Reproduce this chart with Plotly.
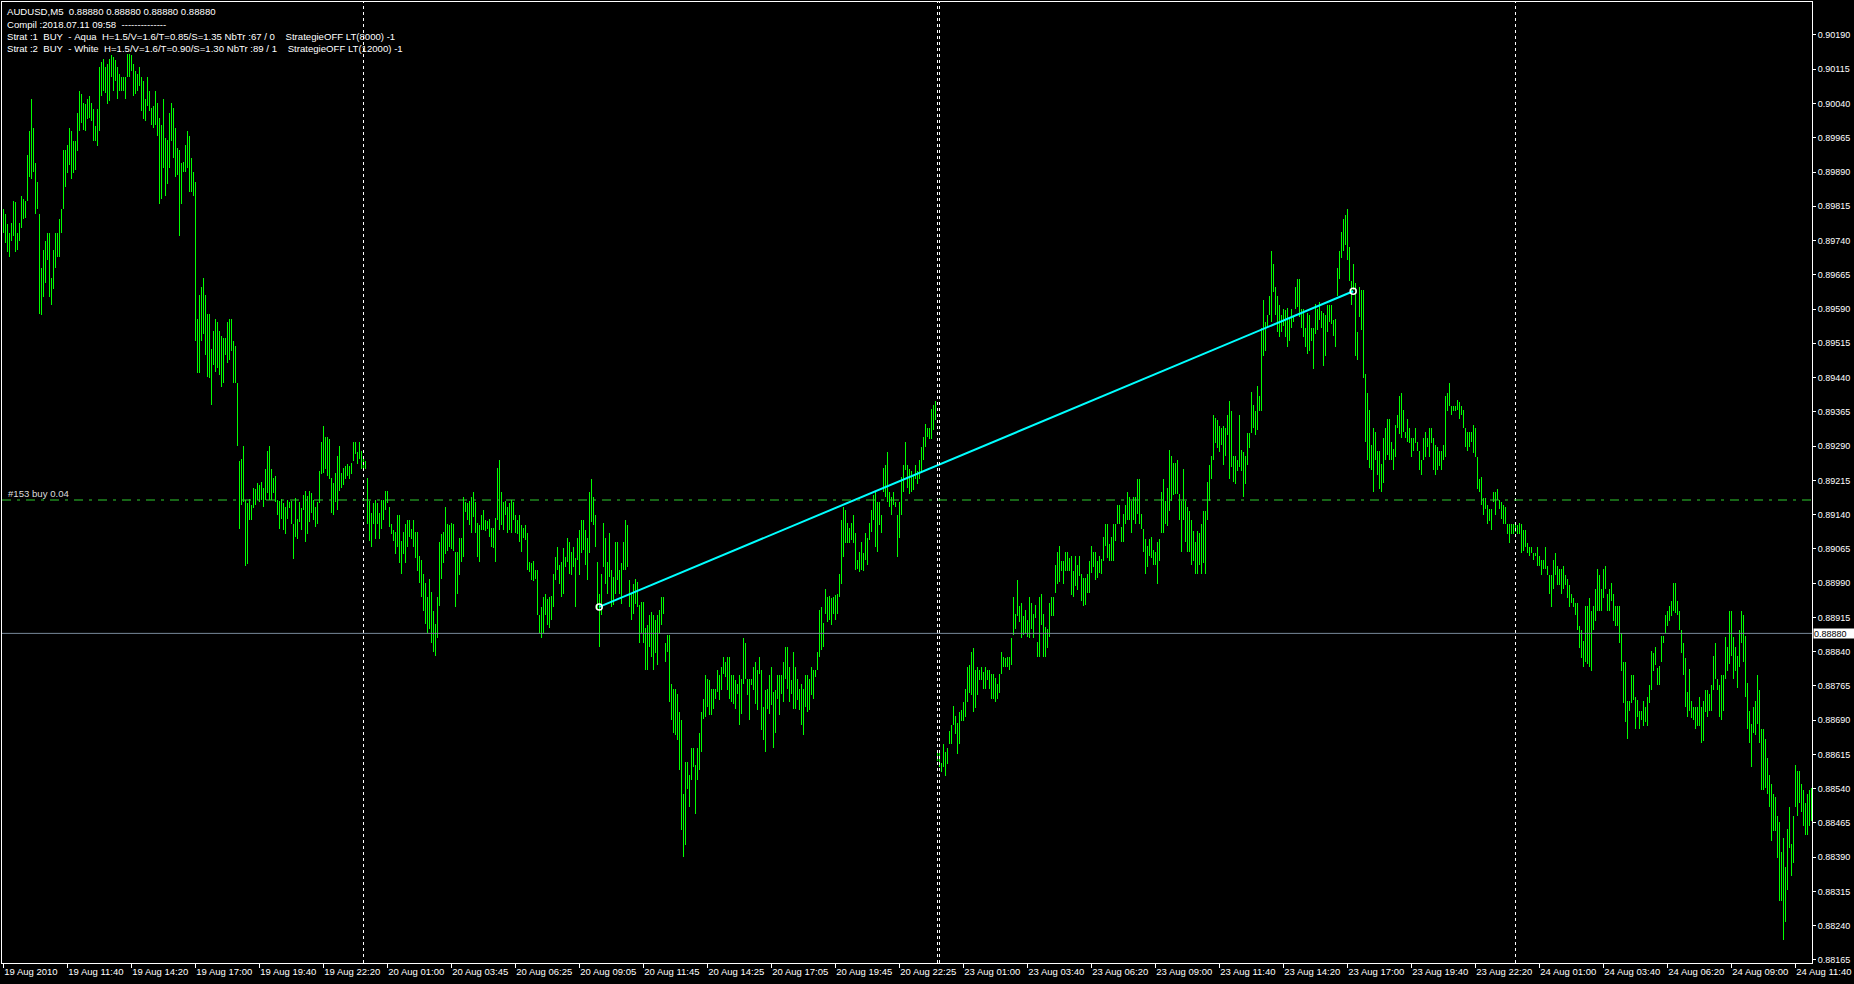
import plotly.graph_objects as go

# ---------------- data: AUDUSD M5 bars, prices in points (1 point = 0.00001) ----------------
aug19_high = [
    89809, 89798, 89776, 89757, 89779, 89827, 89824, 89757, 89779, 89838,
    89831, 89827, 89927, 89979, 90049, 89986, 89909, 89868, 89798, 89679,
    89720, 89738, 89757, 89757, 89657, 89720, 89757, 89757, 89787, 89809,
    89938, 89938, 89949, 89986, 89979, 89957, 89957, 90020, 90068, 90061,
    90042, 90038, 90049, 90057, 90042, 90027, 89990, 90027, 90120, 90131,
    90138, 90120, 90127, 90138, 90146, 90142, 90135, 90120, 90105, 90098,
    90098, 90098, 90149, 90149, 90146, 90127, 90112, 90105, 90120, 90098,
    90090, 90049, 90098, 90068, 90031, 90035, 90068, 90042, 90009, 89994,
    90049, 89964, 89961, 90020, 90042, 90031, 89986, 89942, 89938, 89909,
    89912, 89949, 89979, 89968, 89920, 89890, 89868, 89568, 89620, 89639,
    89657, 89620, 89579, 89579, 89502, 89542, 89568, 89561, 89542, 89531,
    89527, 89527, 89561, 89568, 89568, 89520, 89509, 89428, 89257, 89261,
    89291, 89171, 89166, 89174, 89161, 89198, 89195, 89209, 89205, 89211,
    89198, 89239, 89279, 89291, 89239, 89220, 89224, 89172, 89169, 89175,
    89166, 89157, 89173, 89168, 89170, 89120, 89176, 89131, 89167, 89154,
    89183, 89191, 89180, 89191, 89187, 89172, 89157, 89168, 89235, 89298,
    89335, 89309, 89309, 89305, 89220, 89209, 89231, 89268, 89291, 89231,
    89242, 89246, 89250, 89246, 89254, 89298, 89298, 89276, 89298, 89279,
]
aug19_low = [
    89757, 89735, 89716, 89705, 89738, 89750, 89716, 89720, 89738, 89768,
    89787, 89790, 89827, 89879, 89875, 89890, 89798, 89809, 89579, 89576,
    89616, 89646, 89698, 89616, 89598, 89635, 89679, 89705, 89705, 89757,
    89809, 89857, 89887, 89905, 89875, 89887, 89894, 89935, 89979, 89998,
    89983, 89979, 90005, 90009, 90001, 89957, 89957, 89946, 89979, 90057,
    90068, 90064, 90038, 90046, 90098, 90068, 90090, 90049, 90068, 90068,
    90068, 90049, 90098, 90098, 90112, 90057, 90061, 90068, 90079, 90024,
    90005, 90001, 90035, 90024, 89994, 89986, 89994, 89968, 89820, 89831,
    89898, 89838, 89864, 89898, 89957, 89920, 89879, 89883, 89750, 89820,
    89890, 89890, 89898, 89846, 89846, 89838, 89520, 89450, 89450, 89520,
    89535, 89490, 89442, 89439, 89379, 89468, 89453, 89461, 89446, 89420,
    89428, 89490, 89472, 89479, 89498, 89428, 89428, 89291, 89109, 89161,
    89168, 89028, 89031, 89128, 89128, 89154, 89161, 89172, 89168, 89172,
    89157, 89172, 89187, 89172, 89172, 89187, 89168, 89139, 89109, 89131,
    89106, 89098, 89131, 89154, 89120, 89042, 89091, 89087, 89124, 89106,
    89150, 89080, 89098, 89124, 89143, 89128, 89113, 89120, 89165, 89228,
    89231, 89239, 89224, 89217, 89143, 89139, 89168, 89150, 89191, 89198,
    89205, 89217, 89224, 89217, 89228, 89257, 89272, 89250, 89261, 89239,
]
aug20_high = [
    89261, 89257, 89220, 89170, 89143, 89166, 89173, 89165, 89143, 89171,
    89172, 89191, 89191, 89157, 89120, 89106, 89102, 89139, 89139, 89083,
    89102, 89120, 89128, 89128, 89109, 89128, 89102, 89102, 89050, 89040,
    89010, 88990, 88960, 89000, 88970, 88930, 88900, 88960, 89080, 89098,
    89102, 89157, 89120, 89118, 89122, 89120, 89059, 89059, 89088, 89088,
    89179, 89168, 89166, 89170, 89179, 89190, 89168, 89121, 89117, 89139,
    89150, 89128, 89126, 89130, 89110, 89110, 89132, 89241, 89259, 89190,
    89168, 89170, 89157, 89166, 89172, 89167, 89139, 89128, 89139, 89117,
    89110, 89117, 89099, 89037, 89035, 89039, 89018, 89018, 88920, 88938,
    88960, 88967, 88956, 88960, 88962, 89011, 89048, 89069, 89029, 89037,
    89066, 89048, 89088, 89080, 89059, 89069, 89044, 89088, 89106, 89128,
    89128, 89106, 89088, 89190, 89219, 89179, 89139, 89037, 88967, 89011,
    89121, 89088, 89037, 89099, 89018, 89004, 89080, 89080, 89018, 89033,
    89080, 89128, 89117, 88996, 88967, 88989, 89000, 88993, 88942, 88949,
    88949, 88891, 88898, 88920, 88927, 88920, 88909, 88920, 88931, 88960,
    88960, 88858, 88876, 88876, 88770, 88759, 88759, 88748, 88708, 88690,
    88529, 88599, 88599, 88569, 88628, 88628, 88591, 88628, 88661, 88708,
    88737, 88788, 88781, 88777, 88759, 88759, 88759, 88799, 88788, 88807,
    88828, 88818, 88828, 88828, 88788, 88788, 88777, 88770, 88788, 88781,
    88869, 88858, 88781, 88781, 88781, 88807, 88818, 88799, 88828, 88799,
    88719, 88756, 88759, 88788, 88807, 88752, 88756, 88788, 88788, 88788,
    88818, 88850, 88850, 88807, 88777, 88840, 88807, 88781, 88759, 88770,
    88759, 88788, 88788, 88781, 88807, 88799, 88799, 88840, 88931, 88938,
    88902, 88978, 88960, 88962, 88958, 88960, 88963, 88967, 89011, 89128,
    89157, 89150, 89121, 89110, 89121, 89139, 89099, 89040, 89059, 89080,
    89055, 89099, 89088, 89121, 89150, 89183, 89190, 89168, 89168, 89139,
    89241, 89248, 89278, 89190, 89179, 89190, 89168, 89139, 89168, 89223,
    89248, 89299, 89248, 89240, 89235, 89227, 89248, 89235, 89260, 89289,
    89310, 89338, 89330, 89330, 89371, 89380, 89388,
]
aug20_low = [
    89239, 89239, 89120, 89083, 89069, 89120, 89087, 89120, 89087, 89109,
    89128, 89150, 89165, 89113, 89098, 89083, 89054, 89069, 89035, 89009,
    89054, 89035, 89069, 89091, 89087, 89069, 89046, 89017, 88990, 88960,
    88930, 88900, 88880, 88890, 88860, 88840, 88830, 88870, 88940, 89000,
    89035, 89054, 89061, 89069, 89065, 89061, 88938, 88967, 89007, 89037,
    89048, 89146, 89128, 89117, 89099, 89135, 89099, 89048, 89037, 89106,
    89106, 89104, 89108, 89091, 89069, 89066, 89037, 89128, 89106, 89117,
    89106, 89139, 89099, 89106, 89099, 89128, 89099, 89097, 89080, 89059,
    89088, 89084, 89018, 89015, 88996, 88994, 88998, 88920, 88880, 88869,
    88880, 88920, 88898, 88891, 88909, 88938, 88996, 89018, 88989, 88960,
    88967, 89026, 89037, 89011, 89007, 89026, 88938, 89040, 89007, 89055,
    89062, 89029, 88996, 89055, 89124, 89117, 89069, 88931, 88850, 88920,
    89026, 88989, 88967, 89004, 88938, 88942, 88967, 88996, 88967, 88945,
    89018, 89018, 89026, 88938, 88909, 88923, 88945, 88938, 88858, 88880,
    88858, 88799, 88799, 88850, 88829, 88799, 88836, 88810, 88880, 88898,
    88923, 88818, 88840, 88730, 88690, 88661, 88657, 88646, 88580, 88449,
    88391, 88416, 88540, 88500, 88558, 88588, 88485, 88558, 88580, 88621,
    88693, 88697, 88719, 88701, 88701, 88715, 88737, 88752, 88734, 88756,
    88792, 88785, 88756, 88737, 88730, 88726, 88715, 88748, 88679, 88704,
    88770, 88781, 88745, 88690, 88766, 88756, 88726, 88712, 88792, 88668,
    88646, 88621, 88715, 88704, 88723, 88628, 88661, 88737, 88701, 88748,
    88730, 88781, 88759, 88730, 88748, 88715, 88715, 88734, 88712, 88679,
    88657, 88719, 88708, 88712, 88745, 88737, 88785, 88799, 88829, 88843,
    88850, 88923, 88905, 88909, 88898, 88923, 88909, 88923, 88960, 88989,
    89048, 89077, 89077, 89077, 89084, 89077, 89018, 89021, 89015, 89019,
    89017, 89040, 89029, 89084, 89102, 89128, 89069, 89059, 89117, 89099,
    89190, 89179, 89168, 89157, 89139, 89161, 89157, 89048, 89088, 89139,
    89190, 89237, 89198, 89186, 89190, 89194, 89219, 89207, 89219, 89231,
    89260, 89289, 89310, 89306, 89306, 89326, 89347,
]
aug22_high = [88625]
aug22_low = [88600]
aug23_high = [
    88621, 88597, 88638, 88621, 88630, 88667, 88679, 88720, 88700, 88683,
    88708, 88712, 88729, 88758, 88807, 88811, 88840, 88848, 88799, 88807,
    88799, 88807, 88795, 88807, 88799, 88799, 88790, 88790, 88782, 88770,
    88790, 88840, 88828, 88826, 88829, 88828, 88869, 88959, 88922, 88996,
    88939, 88947, 88918, 88931, 88910, 88959, 88947, 88922, 88943, 88861,
    88959, 88967, 88922, 88893, 88889, 88947, 88959, 88959, 89029, 89058,
    89071, 89038, 89038, 89058, 89058, 89046, 89050, 89017, 89050, 89029,
    89050, 89009, 89001, 89001, 89009, 89038, 89071, 89058, 89058, 89038,
    89050, 89042, 89091, 89120, 89120, 89075, 89091, 89120, 89120, 89161,
    89161, 89112, 89141, 89161, 89190, 89178, 89169, 89178, 89178, 89219,
    89219, 89141, 89108, 89087, 89071, 89087, 89091, 89062, 89058, 89079,
    89087, 89190, 89219, 89169, 89198, 89281, 89268, 89252, 89252, 89260,
    89186, 89169, 89240, 89169, 89157, 89149, 89128, 89104, 89079, 89104,
    89099, 89120, 89149, 89149, 89211, 89248, 89268, 89359, 89351, 89347,
    89334, 89330, 89334, 89330, 89359, 89388, 89367, 89268, 89268, 89260,
    89359, 89281, 89277, 89268, 89318, 89318, 89408, 89380, 89367, 89421,
    89400, 89549, 89610, 89561, 89577, 89619, 89718, 89689, 89639, 89619,
    89598, 89577, 89590, 89588, 89592, 89573, 89590, 89573, 89639, 89656,
    89656, 89590, 89590, 89549, 89581, 89577, 89549, 89549, 89602, 89590,
    89606, 89586, 89581, 89577, 89598, 89598, 89598, 89565, 89569, 89680,
    89718, 89759, 89788, 89796, 89808, 89726, 89651, 89689, 89647, 89540,
    89639, 89631, 89631,
    89448, 89407, 89370, 89292, 89329, 89320, 89279, 89279, 89250, 89308,
    89329, 89349, 89349, 89300, 89283, 89337, 89357, 89399, 89407, 89370,
    89320, 89349, 89329, 89308, 89308, 89329, 89300, 89279, 89259, 89308,
    89320, 89308, 89329, 89329, 89308, 89292, 89288, 89279, 89279, 89292,
    89399, 89407, 89428, 89378, 89378, 89378, 89390, 89386, 89378, 89370,
    89329, 89320, 89320, 89320, 89337, 89329, 89267, 89217, 89222, 89176,
    89176, 89160, 89152, 89152, 89189, 89189, 89197, 89172, 89168, 89160,
    89156, 89119, 89119, 89119, 89119,
]
aug23_low = [
    88588, 88576, 88588, 88568, 88593, 88638, 88638, 88679, 88659, 88617,
    88638, 88688, 88688, 88696, 88729, 88749, 88745, 88708, 88716, 88745,
    88778, 88778, 88758, 88758, 88778, 88758, 88737, 88737, 88729, 88737,
    88749, 88790, 88807, 88807, 88807, 88799, 88811, 88877, 88889, 88918,
    88906, 88869, 88877, 88881, 88873, 88869, 88889, 88869, 88914, 88828,
    88828, 88898, 88828, 88828, 88848, 88873, 88918, 88918, 88968, 88988,
    88992, 89017, 88988, 89017, 89017, 89017, 88964, 88959, 88984, 88976,
    89005, 88951, 88939, 88943, 88968, 88968, 89013, 89025, 88997, 89001,
    89013, 89009, 89038, 89071, 89046, 89038, 89038, 89038, 89083, 89120,
    89120, 89079, 89079, 89120, 89128, 89128, 89100, 89128, 89120, 89141,
    89120, 89108, 89058, 89009, 89025, 89050, 89046, 89029, 89029, 88988,
    89038, 89100, 89100, 89120, 89116, 89149, 89169, 89182, 89186, 89186,
    89128, 89058, 89128, 89079, 89058, 89058, 89029, 89038, 89009, 89009,
    89029, 89009, 89033, 89009, 89128, 89169, 89219, 89260, 89297, 89285,
    89277, 89293, 89248, 89268, 89314, 89219, 89244, 89211, 89207, 89235,
    89244, 89235, 89178, 89207, 89248, 89285, 89318, 89330, 89314, 89326,
    89367, 89367, 89487, 89499, 89549, 89577, 89561, 89627, 89577, 89540,
    89528, 89540, 89553, 89528, 89507, 89520, 89549, 89561, 89590, 89594,
    89573, 89549, 89528, 89507, 89491, 89499, 89520, 89458, 89536, 89544,
    89565, 89549, 89466, 89487, 89540, 89561, 89557, 89532, 89507, 89619,
    89656, 89701, 89718, 89730, 89697, 89651, 89598, 89631, 89487, 89479,
    89573, 89544, 89440,
    89300, 89259, 89242, 89238, 89189, 89259, 89226, 89197, 89189, 89209,
    89259, 89271, 89259, 89259, 89238, 89267, 89329, 89316, 89308, 89320,
    89308, 89300, 89296, 89267, 89279, 89296, 89279, 89238, 89226, 89259,
    89267, 89287, 89267, 89296, 89238, 89226, 89238, 89246, 89238, 89259,
    89267, 89366, 89378, 89357, 89366, 89366, 89370, 89349, 89357, 89329,
    89287, 89279, 89287, 89300, 89275, 89267, 89197, 89189, 89160, 89139,
    89152, 89119, 89127, 89106, 89168, 89139, 89172, 89152, 89131, 89119,
    89119, 89098, 89077, 89098, 89098,
]
aug24_high = [
    89119, 89117, 89121, 89119, 89106, 89106, 89077, 89069, 89069, 89057,
    89057, 89069, 89049, 89040, 89040, 89069, 89028, 89007, 89007, 89040,
    89057, 89028, 89020, 89020, 89028, 89007, 88999, 88987, 88966, 88958,
    88946, 88946, 88896, 88888, 88863, 88941, 88941, 88958, 88929, 88941,
    88978, 89020, 89007, 88978, 89020, 89028, 88966, 88978, 88991, 88966,
    88941, 88941, 88941, 88880, 88818, 88818, 88731, 88731, 88789, 88789,
    88740, 88735, 88711, 88711, 88731, 88719, 88740, 88768, 88842, 88838,
    88851, 88805, 88809, 88875, 88875, 88921, 88929, 88941, 88950, 88991,
    88991, 88950, 88929, 88888, 88859, 88826, 88752, 88801, 88731, 88719,
    88719, 88719, 88740, 88719, 88731, 88756, 88756, 88748, 88768, 88830,
    88859, 88781, 88768, 88789, 88789, 88871, 88851, 88929, 88929, 88871,
    88851, 88830, 88888, 88929, 88921, 88875, 88772, 88711, 88682, 88719,
    88731, 88789, 88756, 88670, 88670, 88649, 88608, 88571, 88550, 88529,
    88521, 88480, 88468, 88402, 88431, 88369, 88451, 88501, 88418, 88480,
    88591, 88579, 88579, 88550, 88538, 88509, 88529, 88538, 88541,
]
aug24_low = [
    89102, 89098, 89098, 89057, 89061, 89069, 89057, 89049, 89057, 89040,
    89049, 89028, 89028, 89007, 89020, 89020, 89007, 88966, 88937, 88978,
    89007, 88987, 88987, 88966, 88978, 88987, 88958, 88937, 88946, 88937,
    88921, 88888, 88847, 88826, 88806, 88818, 88814, 88806, 88797, 88888,
    88908, 88929, 88929, 88929, 88958, 88978, 88929, 88929, 88950, 88908,
    88896, 88896, 88859, 88797, 88727, 88686, 88649, 88711, 88727, 88735,
    88670, 88698, 88670, 88690, 88678, 88686, 88678, 88727, 88756, 88797,
    88810, 88768, 88768, 88818, 88859, 88880, 88896, 88908, 88917, 88929,
    88925, 88921, 88888, 88838, 88789, 88719, 88698, 88711, 88694, 88690,
    88670, 88678, 88678, 88641, 88645, 88707, 88698, 88711, 88711, 88756,
    88781, 88756, 88698, 88690, 88711, 88781, 88797, 88814, 88830, 88781,
    88797, 88760, 88806, 88859, 88818, 88740, 88670, 88641, 88587, 88661,
    88657, 88682, 88641, 88538, 88538, 88542, 88529, 88501, 88426, 88447,
    88447, 88389, 88295, 88295, 88208, 88249, 88319, 88410, 88348, 88377,
    88501, 88480, 88509, 88488, 88459, 88439, 88439, 88459, 88470,
]

# time axis labels (every 32 bars) and price axis ticks
tick_bars = [0, 32, 64, 96, 128, 160, 192, 224, 256, 288, 320, 352, 384, 416, 448,
             480, 512, 544, 576, 608, 640, 672, 704, 736, 768, 800, 832, 864, 896]
tick_labels = ["19 Aug 2010", "19 Aug 11:40", "19 Aug 14:20", "19 Aug 17:00", "19 Aug 19:40",
               "19 Aug 22:20", "20 Aug 01:00", "20 Aug 03:45", "20 Aug 06:25", "20 Aug 09:05",
               "20 Aug 11:45", "20 Aug 14:25", "20 Aug 17:05", "20 Aug 19:45", "20 Aug 22:25",
               "23 Aug 01:00", "23 Aug 03:40", "23 Aug 06:20", "23 Aug 09:00", "23 Aug 11:40",
               "23 Aug 14:20", "23 Aug 17:00", "23 Aug 19:40", "23 Aug 22:20", "24 Aug 01:00",
               "24 Aug 03:40", "24 Aug 06:20", "24 Aug 09:00", "24 Aug 11:40"]
price_ticks = [0.88165, 0.88240, 0.88315, 0.88390, 0.88465, 0.88540, 0.88615, 0.88690,
               0.88765, 0.88840, 0.88915, 0.88990, 0.89065, 0.89140, 0.89215, 0.89290,
               0.89365, 0.89440, 0.89515, 0.89590, 0.89665, 0.89740, 0.89815, 0.89890,
               0.89965, 0.90040, 0.90115, 0.90190]

day_start_bars = [180, 467, 468, 756]      # period separators
bid_price = 0.88880
order_level = 0.89172                      # "#153 buy 0.04"
trade_bars = [298, 675]
trade_prices = [0.88938, 0.89629]

header_lines = [
    "AUDUSD,M5  0.88880 0.88880 0.88880 0.88880",
    "Compil :2018.07.11 09:58  --------------",
    "Strat :1  BUY  - Aqua  H=1.5/V=1.6/T=0.85/S=1.35 NbTr :67 / 0    StrategieOFF LT(8000) -1",
    "Strat :2  BUY  - White  H=1.5/V=1.6/T=0.90/S=1.30 NbTr :89 / 1    StrategieOFF LT(12000) -1",
]

# ---------------- build ----------------
high_pts = aug19_high + aug20_high + aug22_high + aug23_high + aug24_high
low_pts = aug19_low + aug20_low + aug22_low + aug23_low + aug24_low
n = min(len(high_pts), len(low_pts))
bars = list(range(n))
high = [p / 100000 for p in high_pts[:n]]
low = [p / 100000 for p in low_pts[:n]]
span = [h - l for h, l in zip(high, low)]

FONT = "Liberation Sans, Arial, sans-serif"
BAR_COLOR = "rgba(0,255,0,0.999)"

fig = go.Figure()
fig.add_trace(go.Bar(
    x=bars, y=span, base=low, width=0.5,
    marker=dict(color=BAR_COLOR, line=dict(width=0)),
    hoverinfo="skip",
))
fig.add_trace(go.Scatter(
    x=trade_bars, y=trade_prices, mode="lines",
    line=dict(color="#00FFFF", width=2), hoverinfo="skip",
))
fig.add_trace(go.Scatter(
    x=trade_bars, y=trade_prices, mode="markers",
    marker=dict(symbol="circle-open", size=6, color="white", line=dict(width=1.5)),
    hoverinfo="skip",
))

shapes = []
for b in day_start_bars:
    shapes.append(dict(type="line", xref="x", yref="paper", x0=b + 0.15, x1=b + 0.15,
                       y0=0, y1=1, line=dict(color="white", width=1, dash="3px,3px")))
shapes.append(dict(type="line", xref="paper", yref="y", x0=0, x1=1, y0=bid_price, y1=bid_price,
                   line=dict(color="#778899", width=1)))
shapes.append(dict(type="line", xref="paper", yref="y", x0=0, x1=1, y0=order_level, y1=order_level,
                   line=dict(color="#2ECC2E", width=1, dash="9px,6px,3px,6px")))

annotations = []
header_shift = [-9, -22, -34, -46]
for k, line in enumerate(header_lines):
    annotations.append(dict(
        xref="paper", yref="paper", x=0, y=1, xanchor="left", yanchor="middle",
        xshift=3, yshift=header_shift[k],
        text=line.replace(" ", "\u00a0"), showarrow=False,
        font=dict(family=FONT, size=9.6, color="white"),
    ))
annotations.append(dict(
    xref="paper", yref="y", x=0, y=order_level, xanchor="left", yanchor="bottom",
    xshift=4, yshift=-1, text="#153\u00a0buy\u00a00.04", showarrow=False,
    font=dict(family=FONT, size=9.6, color="#dddddd"),
))
annotations.append(dict(
    xref="paper", yref="y", x=1, y=bid_price, xanchor="left", yanchor="middle",
    xshift=1, text=f"{bid_price:.5f}", showarrow=False, bgcolor="white",
    borderpad=0, width=40, height=9, align="left",
    font=dict(family=FONT, size=9, color="black"),
))

fig.update_layout(
    template="none",
    width=1854, height=984,
    margin=dict(l=2, r=42, t=2, b=21, pad=0),
    paper_bgcolor="black", plot_bgcolor="black",
    showlegend=False, hovermode=False,
    bargap=0, bargroupgap=0,
    font=dict(family=FONT, size=9, color="white"),
    shapes=shapes, annotations=annotations,
    xaxis=dict(
        range=[-0.6, n - 0.6], tickmode="array", tickvals=tick_bars, ticktext=tick_labels,
        ticks="outside", ticklen=4, tickcolor="white", tickwidth=1,
        ticklabelposition="outside right", tickangle=0,
        showline=True, linecolor="white", linewidth=1, mirror=True,
        showgrid=False, zeroline=False, automargin=False,
        tickfont=dict(family=FONT, size=9.5, color="white"),
    ),
    yaxis=dict(
        range=[0.881584, 0.902622], side="right", tickmode="array",
        tickvals=price_ticks, ticktext=[f"{v:.5f}" for v in price_ticks],
        ticks="outside", ticklen=3, tickcolor="white", tickwidth=1,
        showline=True, linecolor="white", linewidth=1, mirror=True,
        showgrid=False, zeroline=False, automargin=False,
        tickfont=dict(family=FONT, size=9, color="white"),
    ),
)

fig.write_html(
    "out.html",
    config={"displayModeBar": False},
    post_script="document.body.style.margin='0px';document.body.style.overflow='hidden';"
                "document.documentElement.style.overflow='hidden';",
)
